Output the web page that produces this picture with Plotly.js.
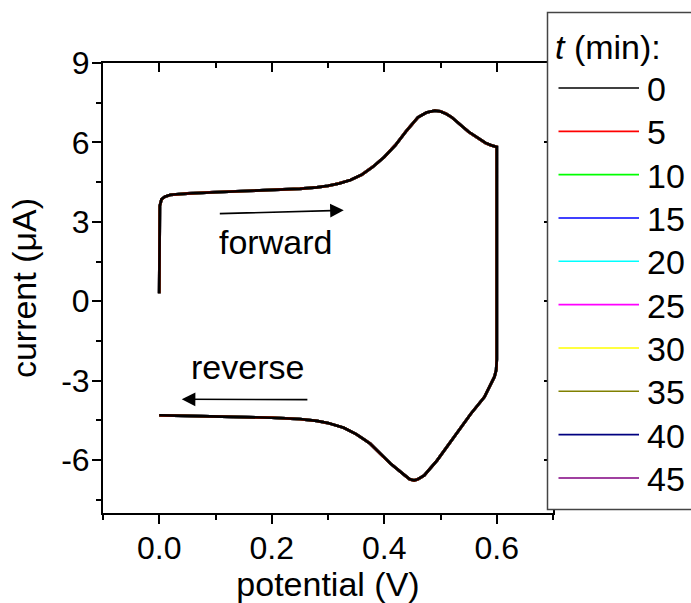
<!DOCTYPE html>
<html>
<head>
<meta charset="utf-8">
<script src="https://cdn.plot.ly/plotly-3.0.1.min.js"></script>
<style>html,body{margin:0;padding:0;background:#fff;}#chart{width:691px;height:603px;}</style>
</head>
<body>
<div id="chart"></div>
<script>
// ---- data ----
const times = ['0', '5', '10', '15', '20', '25', '30', '35', '40', '45'];
const colors = ['#000000', '#ff0000', '#00ff00', '#0000ff', '#00ffff', '#ff00ff', '#ffff00', '#808000', '#000080', '#800080'];

// forward sweep (0 -> 0.6 V)
const potentialForward = [0.000, 0.000, 0.001, 0.004, 0.010, 0.020, 0.050, 0.100, 0.150, 0.200, 0.250, 0.280, 0.300, 0.320, 0.340, 0.360, 0.380, 0.400, 0.420, 0.440, 0.460, 0.475, 0.490, 0.500, 0.510, 0.520, 0.530, 0.540, 0.550, 0.560, 0.570, 0.580, 0.590, 0.600];
const currentForward   = [0.30, 3.00, 3.60, 3.85, 3.95, 4.02, 4.07, 4.12, 4.16, 4.20, 4.25, 4.30, 4.36, 4.45, 4.58, 4.78, 5.08, 5.45, 5.90, 6.45, 6.95, 7.13, 7.20, 7.17, 7.08, 6.95, 6.78, 6.58, 6.40, 6.25, 6.10, 5.98, 5.89, 5.83];

// reverse sweep (0.6 -> 0 V)
const potentialReverse = [0.600, 0.599, 0.596, 0.590, 0.578, 0.554, 0.524, 0.494, 0.471, 0.460, 0.453, 0.445, 0.435, 0.420, 0.411, 0.400, 0.385, 0.375, 0.364, 0.350, 0.328, 0.300, 0.280, 0.250, 0.200, 0.150, 0.100, 0.050, 0.000];
const currentReverse   = [-2.20, -2.60, -2.85, -3.10, -3.62, -4.25, -5.13, -6.01, -6.58, -6.72, -6.77, -6.72, -6.55, -6.30, -6.13, -5.90, -5.58, -5.38, -5.22, -5.02, -4.78, -4.60, -4.52, -4.45, -4.40, -4.37, -4.35, -4.33, -4.31];

// annotation arrows (data coordinates: potential V, current uA)
const forwardArrow = {tail: [0.105, 3.31], head: [0.328, 3.435]};
const reverseArrow = {tail: [0.266, -3.716], head: [0.040, -3.705]};
const forwardLabel = [0.206, 2.25];
const reverseLabel = [0.156, -2.5];

const xTicks = [0.0, 0.2, 0.4, 0.6];
const yTicks = [9, 6, 3, 0, -3, -6];
const yTickText = ['9', '6', '3', '0', '-3', '-6'];

// ---- build ----
const FONT = 'Liberation Sans, Arial, Helvetica, sans-serif';
const potential = potentialForward.concat(potentialReverse);
const current = currentForward.concat(currentReverse);

const traces = [];
for (let k = times.length - 1; k >= 0; k--) {
  traces.push({
    x: potential, y: current, type: 'scatter', mode: 'lines',
    name: times[k], line: {color: colors[k], width: k === 0 ? 2.6 : 2.8},
    showlegend: false, hoverinfo: 'skip'
  });
}
traces.push({x: [], y: [], xaxis: 'x2', yaxis: 'y2', type: 'scatter', mode: 'lines', showlegend: false});

const W = 691, H = 603;
const L = 103, R = 138, T = 63, B = 90;
const pw = W - L - R, ph = H - T - B;
const px = v => (v - L) / pw;            // pixel -> paper x
const py = v => (H - B - v) / ph;        // pixel -> paper y

const tickFont = {family: FONT, size: 32, color: '#000'};
const textSize = 34;
const axisCommon = {
  showgrid: false, zeroline: false, showline: true, linecolor: '#000', linewidth: 2,
  tickcolor: '#000', tickwidth: 2, ticklen: 9
};

const shapes = [];
const annotations = [];

// legend box
shapes.push({type: 'rect', xref: 'paper', yref: 'paper', x0: px(547.5), x1: px(720), y0: py(509.5), y1: py(12.5),
  fillcolor: '#ffffff', line: {color: '#444', width: 1.5}, layer: 'above'});
annotations.push({xref: 'paper', yref: 'paper', x: px(553), y: py(47), xanchor: 'left', yanchor: 'middle',
  text: '<i>t</i> (min):', showarrow: false, font: {family: FONT, size: textSize, color: '#000'}});
for (let k = 0; k < times.length; k++) {
  const yy = 88 + k * 43.33;
  shapes.push({type: 'line', xref: 'paper', yref: 'paper', x0: px(558.5), x1: px(639), y0: py(yy), y1: py(yy),
    line: {color: colors[k], width: 1.6}, layer: 'above'});
  annotations.push({xref: 'paper', yref: 'paper', x: px(645), y: py(yy + 1), xanchor: 'left', yanchor: 'middle',
    text: times[k], showarrow: false, font: {family: FONT, size: textSize, color: '#000'}});
}

// arrows + labels
[forwardArrow, reverseArrow].forEach(a => {
  annotations.push({x: a.head[0], y: a.head[1], ax: a.tail[0], ay: a.tail[1], xref: 'x', yref: 'y', axref: 'x', ayref: 'y',
    text: '', showarrow: true, arrowhead: 2, arrowsize: 1.7, arrowwidth: 1.6, arrowcolor: '#000'});
});
annotations.push({x: forwardLabel[0], y: forwardLabel[1], xref: 'x', yref: 'y', text: 'forward', showarrow: false,
  font: {family: FONT, size: textSize, color: '#000'}});
annotations.push({x: reverseLabel[0], y: reverseLabel[1], xref: 'x', yref: 'y', text: 'reverse', showarrow: false,
  font: {family: FONT, size: textSize, color: '#000'}});

const layout = {
  width: W, height: H,
  margin: {l: L, r: R, t: T, b: B, pad: 0},
  paper_bgcolor: '#fff', plot_bgcolor: '#fff',
  showlegend: false,
  font: {family: FONT, color: '#000'},
  xaxis: Object.assign({}, axisCommon, {
    range: [-0.1, 0.7], tickvals: xTicks, ticktext: xTicks.map(v => v.toFixed(1)), ticks: 'outside',
    ticklabelstandoff: -3,
    tickfont: tickFont, minor: {dtick: 0.1, tick0: 0, ticks: 'outside', ticklen: 5, tickwidth: 2, tickcolor: '#000'},
    title: {text: 'potential (V)', font: {family: FONT, size: textSize, color: '#000'}, standoff: 6}
  }),
  yaxis: Object.assign({}, axisCommon, {
    range: [-8, 9], tickvals: yTicks, ticktext: yTickText, ticks: 'outside',
    ticklabelstandoff: -4,
    tickfont: tickFont, minor: {dtick: 1.5, tick0: 0, ticks: 'outside', ticklen: 5, tickwidth: 2, tickcolor: '#000'},
    title: {text: 'current (\u03bcA)', font: {family: FONT, size: textSize, color: '#000'}, standoff: 14}
  }),
  xaxis2: Object.assign({}, axisCommon, {
    overlaying: 'x', side: 'top', anchor: 'y', range: [-0.1, 0.7], tickvals: xTicks, ticks: 'inside',
    showticklabels: false, minor: {dtick: 0.1, tick0: 0, ticks: 'inside', ticklen: 5, tickwidth: 2, tickcolor: '#000'}
  }),
  yaxis2: Object.assign({}, axisCommon, {
    overlaying: 'y', side: 'right', anchor: 'x', range: [-8, 9], tickvals: yTicks, ticks: 'inside',
    showticklabels: false
  }),
  shapes: shapes,
  annotations: annotations
};

Plotly.newPlot('chart', traces, layout, {displayModeBar: false, staticPlot: true});
</script>
</body>
</html>
